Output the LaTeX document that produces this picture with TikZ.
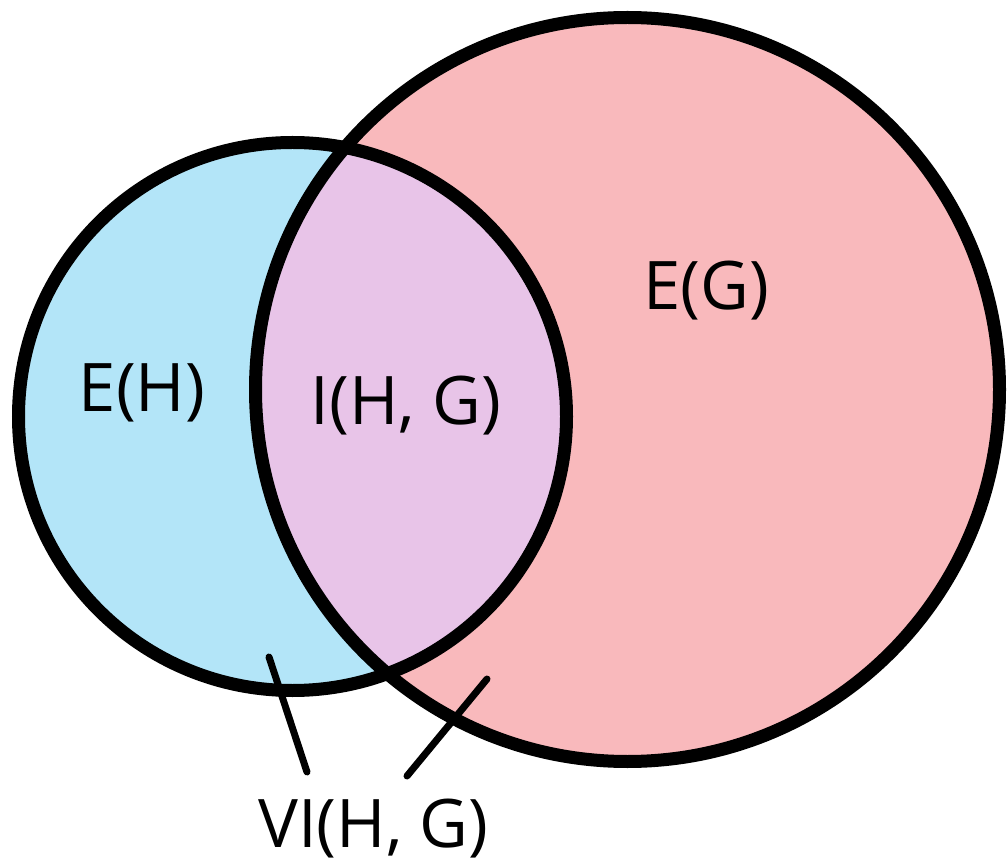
\documentclass[tikz,border=0pt]{standalone}
\usepackage{fontspec}
\setmainfont{Open Sans}
\definecolor{hblue}{RGB}{179,229,248}
\definecolor{gpink}{RGB}{249,185,188}
\definecolor{ipurple}{RGB}{232,196,232}
\tikzset{
  setline/.style={line width=13pt, draw=black},
  pointer/.style={line width=7pt, line cap=round, draw=black},
  lbl/.style={anchor=base, inner sep=0pt, font=\fontsize{67}{80}\selectfont}
}
\begin{document}
\begin{tikzpicture}[x=1pt,y=-1pt]
\useasboundingbox (0,0) rectangle (1007,858);
\coordinate (cg) at (627.5,389.5);
\coordinate (ch) at (292.5,416.5);
\fill[gpink] (cg) circle[radius=372];
\fill[hblue] (ch) circle[radius=274];
\begin{scope}
  \clip (cg) circle[radius=372];
  \fill[ipurple] (ch) circle[radius=274];
\end{scope}
\draw[setline] (cg) circle[radius=372];
\draw[setline] (ch) circle[radius=274];
\node[lbl] (eh) at (142,412) {E(H)};
\node[lbl] (ihg) at (406,425) {I(H, G)};
\node[lbl] (eg) at (706,310) {E(G)};
\node[lbl] (vi) at (373.5,847) {VI(H, G)};
\coordinate (p1) at (269,657);
\coordinate (q1) at (307,772);
\coordinate (p2) at (487,679);
\coordinate (q2) at (407,776);
\draw[pointer] (p1) -- (q1);
\draw[pointer] (p2) -- (q2);
\end{tikzpicture}
\end{document}
